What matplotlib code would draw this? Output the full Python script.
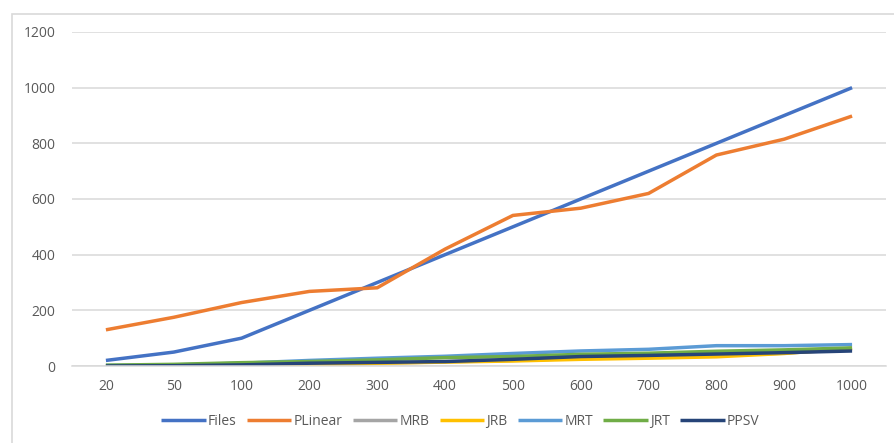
import matplotlib
matplotlib.use('Agg')
import matplotlib.pyplot as plt
from matplotlib.patches import Rectangle
import numpy as np

categories = ['20', '50', '100', '200', '300', '400', '500', '600', '700', '800', '900', '1000']
files = [20, 50, 100, 200, 300, 400, 500, 600, 700, 800, 900, 1000]
plinear = [130, 175, 228, 268, 281, 420, 541, 567, 620, 758, 815, 898]
mrb = [0, 1, 3, 6, 10, 15, 20, 27, 32, 38, 46, 60]
jrb = [0, 1, 2, 5, 10, 14, 18, 24, 28, 33, 45, 64]
mrt = [2, 4, 10, 20, 28, 35, 45, 54, 60, 73, 73, 77]
jrt = [3, 6, 12, 16, 22, 30, 34, 42, 46, 53, 58, 65]
ppsv = [0, 1, 4, 10, 13, 16, 24, 34, 38, 43, 48, 54]

series = [('Files', files, '#4472C4'),
          ('PLinear', plinear, '#ED7D31'),
          ('MRB', mrb, '#A5A5A5'),
          ('JRB', jrb, '#FFC000'),
          ('MRT', mrt, '#5B9BD5'),
          ('JRT', jrt, '#70AD47'),
          ('PPSV', ppsv, '#264478')]

plt.rcParams['font.family'] = ['Open Sans', 'DejaVu Sans']

fig = plt.figure(figsize=(8.95, 4.43), dpi=100)
# outer chart border
fig.patches.append(Rectangle((12 / 895, -0.1), 1.0, 1.1 - 14 / 443, transform=fig.transFigure,
                             fill=False, edgecolor='#d9d9d9', linewidth=1.2))
ax = fig.add_axes([72 / 895, 1 - 366 / 443, (886 - 72) / 895, (366 - 32) / 443])

x = np.arange(len(categories))
for name, vals, col in series:
    ax.plot(x, vals, color=col, linewidth=2.5, label=name, solid_capstyle='butt')

ax.set_xlim(-0.5, len(categories) - 0.5)
ax.set_ylim(0, 1200)
ax.set_yticks(np.arange(0, 1201, 200))
ax.set_xticks(x)
ax.set_xticklabels(categories)
ax.grid(axis='y', color='#d9d9d9', linewidth=1.1)
ax.set_axisbelow(True)
for s in ['top', 'right', 'left']:
    ax.spines[s].set_visible(False)
ax.spines['bottom'].set_color('#d9d9d9')
ax.spines['bottom'].set_linewidth(1.1)
ax.tick_params(axis='both', length=0, labelsize=10, labelcolor='#595959')
ax.tick_params(axis='x', pad=9)
ax.tick_params(axis='y', pad=12)

leg = ax.legend(loc='center', bbox_to_anchor=(0.477, -0.165), ncol=7, frameon=False,
                fontsize=10, handlelength=3.2, columnspacing=0.75, handletextpad=0.15)
for t in leg.get_texts():
    t.set_color('#595959')

fig.savefig('out.png', dpi=100)
